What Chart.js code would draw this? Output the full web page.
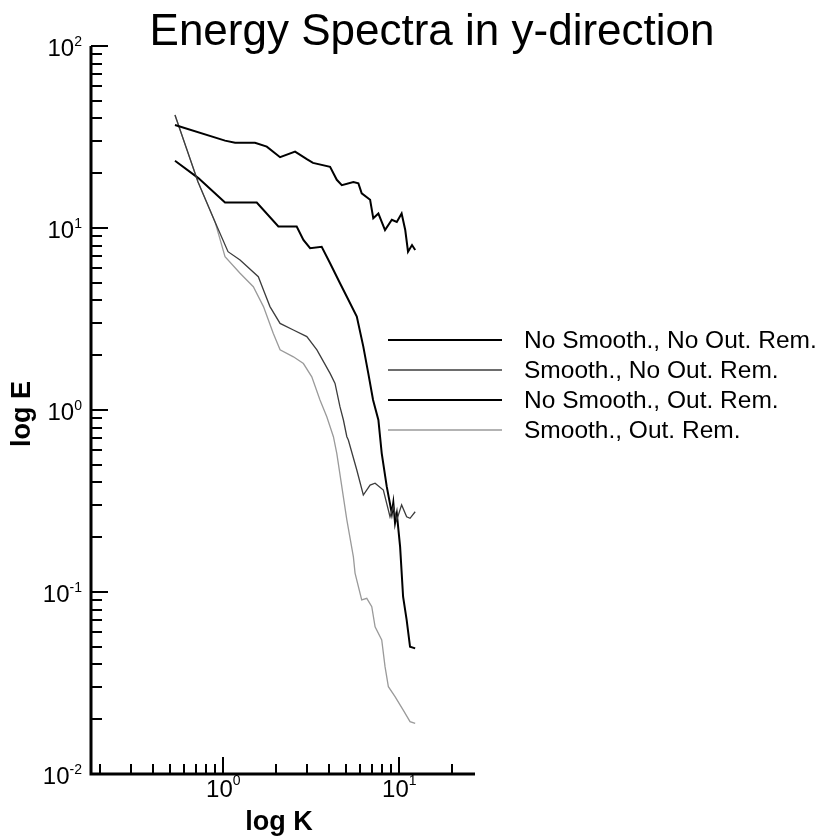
<!DOCTYPE html>
<html><head><meta charset="utf-8">
<script src="https://cdn.jsdelivr.net/npm/chart.js@4/dist/chart.umd.min.js"></script>
<style>html,body{margin:0;padding:0;background:#fff}#wrap{width:825px;height:836px;position:relative}</style>
</head><body><div id="wrap"><canvas id="c"></canvas></div>
<script>
const chartTitle = 'Energy Spectra in y-direction';
const xTitle = 'log K';
const yTitle = 'log E';
const seriesLabels = ['No Smooth., No Out. Rem.', 'Smooth., No Out. Rem.', 'No Smooth., Out. Rem.', 'Smooth., Out. Rem.'];

// No Smooth., No Out. Rem.
const k1 = [0.531,1.022,1.166,1.513,1.765,2.10,2.556,2.98,3.23,4.04,4.41,4.71,5.48,5.85,6.11,6.82,7.11,7.60,8.29,9.06,9.67,10.3,10.8,11.2,11.8,12.3];
const e1 = [36.8,30.2,29.4,29.4,28.0,24.5,26.3,23.9,22.8,21.7,18.4,17.2,17.9,17.6,15.5,14.3,11.3,12.0,9.75,11.1,10.8,12.0,9.75,7.41,8.06,7.57];
// Smooth., No Out. Rem.
const k2 = [0.531,0.718,0.897,1.063,1.244,1.58,1.69,1.84,2.10,2.50,2.98,3.40,4.04,4.31,4.60,4.81,5.03,5.13,5.73,6.24,6.82,7.28,8.11,8.66,8.85,9.24,9.67,10.3,11.0,11.5,12.3];
const e2 = [41.8,17.9,10.8,7.41,6.67,5.40,4.56,3.70,2.99,2.75,2.53,2.14,1.59,1.40,1.04,0.881,0.713,0.684,0.468,0.341,0.387,0.396,0.363,0.282,0.259,0.294,0.249,0.301,0.259,0.254,0.276];
// No Smooth., Out. Rem.
const k3 = [0.531,0.721,1.022,1.548,2.054,2.61,2.85,3.11,3.62,4.04,4.60,5.03,5.73,6.24,6.66,7.09,7.60,7.94,8.48,9.06,9.24,9.45,9.67,10.1,10.5,11.0,11.5,12.3];
const e3 = [23.4,18.8,13.8,13.8,10.2,10.2,8.6,7.74,7.89,6.40,4.97,4.19,3.26,2.23,1.59,1.135,0.881,0.578,0.379,0.27,0.31,0.24,0.27,0.177,0.0942,0.0702,0.050,0.049];
// Smooth., Out. Rem.
const k4 = [0.531,0.718,0.897,1.022,1.244,1.48,1.69,1.92,2.10,2.50,2.85,3.18,3.54,3.87,4.22,4.41,4.71,5.03,5.48,5.60,6.11,6.53,6.97,7.28,7.94,8.29,8.66,9.45,10.5,11.5,12.3];
const e4 = [41.8,17.9,10.8,6.96,5.64,4.76,3.70,2.64,2.14,1.96,1.80,1.52,1.135,0.919,0.713,0.578,0.379,0.249,0.156,0.127,0.0904,0.0923,0.0830,0.0644,0.0545,0.0389,0.0302,0.0266,0.0225,0.0194,0.0190];

const xRange = [0.177, 26.9];
const yRange = [0.01, 100];
const xMajorTicks = [1, 10];
const xMajorLabels = [['10','0'], ['10','1']];
const xMinorTicks = [0.2,0.3,0.4,0.5,0.6,0.7,0.8,0.9,2,3,4,5,6,7,8,9,20];
const yMajorTicks = [0.01, 0.1, 1, 10, 100];
const yMajorLabels = [['10','-2'], ['10','-1'], ['10','0'], ['10','1'], ['10','2']];
const yMinorTicks = [0.02,0.03,0.04,0.05,0.06,0.07,0.08,0.09,0.2,0.3,0.4,0.5,0.6,0.7,0.8,0.9,2,3,4,5,6,7,8,9,20,30,40,50,60,70,80,90];

const kArrays = [k1, k2, k3, k4];
const eArrays = [e1, e2, e3, e4];
const colors = ['#000000', '#3c3c3c', '#000000', '#9a9a9a'];
const widths = [2, 1.3, 2, 1.3];

const FONT = '"Liberation Sans", Arial, Helvetica, sans-serif';

const datasets = seriesLabels.map((lab, i) => ({
  label: lab,
  data: kArrays[i].map((k, j) => ({x: k, y: eArrays[i][j]})),
  borderColor: colors[i],
  borderWidth: widths[i],
  pointRadius: 0,
  tension: 0,
  fill: false
}));

const decorPlugin = {
  id: 'decor',
  afterDraw(chart) {
    const {ctx, chartArea: a, scales: {x, y}} = chart;
    ctx.save();
    ctx.fillStyle = '#000';
    ctx.strokeStyle = '#000';
    ctx.lineWidth = 3;
    ctx.beginPath();
    ctx.moveTo(a.left, a.top);
    ctx.lineTo(a.left, a.bottom);
    ctx.lineTo(a.right, a.bottom);
    ctx.stroke();
    ctx.lineWidth = 2;
    const yTick = (v, len) => { const p = Math.round(y.getPixelForValue(v)); ctx.beginPath(); ctx.moveTo(a.left, p); ctx.lineTo(a.left + len, p); ctx.stroke(); };
    const xTick = (v, len) => { const p = Math.round(x.getPixelForValue(v)); ctx.beginPath(); ctx.moveTo(p, a.bottom); ctx.lineTo(p, a.bottom - len); ctx.stroke(); };
    yMinorTicks.forEach(v => yTick(v, 11));
    yMajorTicks.forEach(v => yTick(v, 17));
    xMinorTicks.forEach(v => xTick(v, 10));
    xMajorTicks.forEach(v => xTick(v, 17));

    ctx.textBaseline = 'alphabetic';
    ctx.textAlign = 'left';
    yMajorTicks.forEach((v, i) => {
      const p = y.getPixelForValue(v);
      const [b, e] = yMajorLabels[i];
      ctx.font = '14px ' + FONT;
      const we = ctx.measureText(e).width;
      const right = 82;
      ctx.fillText(e, right - we, p);
      ctx.font = '24px ' + FONT;
      const wb = ctx.measureText(b).width;
      ctx.fillText(b, right - we - wb, p + 10);
    });
    xMajorTicks.forEach((v, i) => {
      const p = x.getPixelForValue(v);
      const [b, e] = xMajorLabels[i];
      ctx.font = '24px ' + FONT;
      const wb = ctx.measureText(b).width;
      ctx.font = '14px ' + FONT;
      const we = ctx.measureText(e).width;
      const start = p - (wb + we) / 2;
      ctx.font = '24px ' + FONT;
      ctx.fillText(b, start, 797);
      ctx.font = '14px ' + FONT;
      ctx.fillText(e, start + wb, 785);
    });

    ctx.textAlign = 'center';
    ctx.font = '44px ' + FONT;
    ctx.fillText(chartTitle, 432, 45);

    ctx.font = 'bold 27px ' + FONT;
    ctx.fillText(xTitle, 279, 830);
    ctx.save();
    ctx.translate(30, 414);
    ctx.rotate(-Math.PI / 2);
    ctx.fillText(yTitle, 0, 0);
    ctx.restore();

    const legY = [340, 370, 400, 430];
    chart.data.datasets.forEach((ds, i) => {
      const ly = legY[i];
      ctx.strokeStyle = ds.borderColor;
      ctx.lineWidth = ds.borderWidth;
      ctx.beginPath();
      ctx.moveTo(388, ly);
      ctx.lineTo(502, ly);
      ctx.stroke();
      ctx.fillStyle = '#000';
      ctx.textAlign = 'left';
      ctx.font = '24.5px ' + FONT;
      ctx.fillText(ds.label, 524, ly + 8);
    });
    ctx.restore();
  }
};

new Chart(document.getElementById('c'), {
  type: 'line',
  data: { datasets },
  options: {
    responsive: true,
    maintainAspectRatio: false,
    animation: false,
    layout: { padding: { left: 91, top: 46, right: 350, bottom: 62 } },
    plugins: { legend: { display: false }, tooltip: { enabled: false }, title: { display: false } },
    scales: {
      x: { type: 'logarithmic', min: xRange[0], max: xRange[1], display: false },
      y: { type: 'logarithmic', min: yRange[0], max: yRange[1], display: false }
    }
  },
  plugins: [decorPlugin]
});
</script>
</body></html>
